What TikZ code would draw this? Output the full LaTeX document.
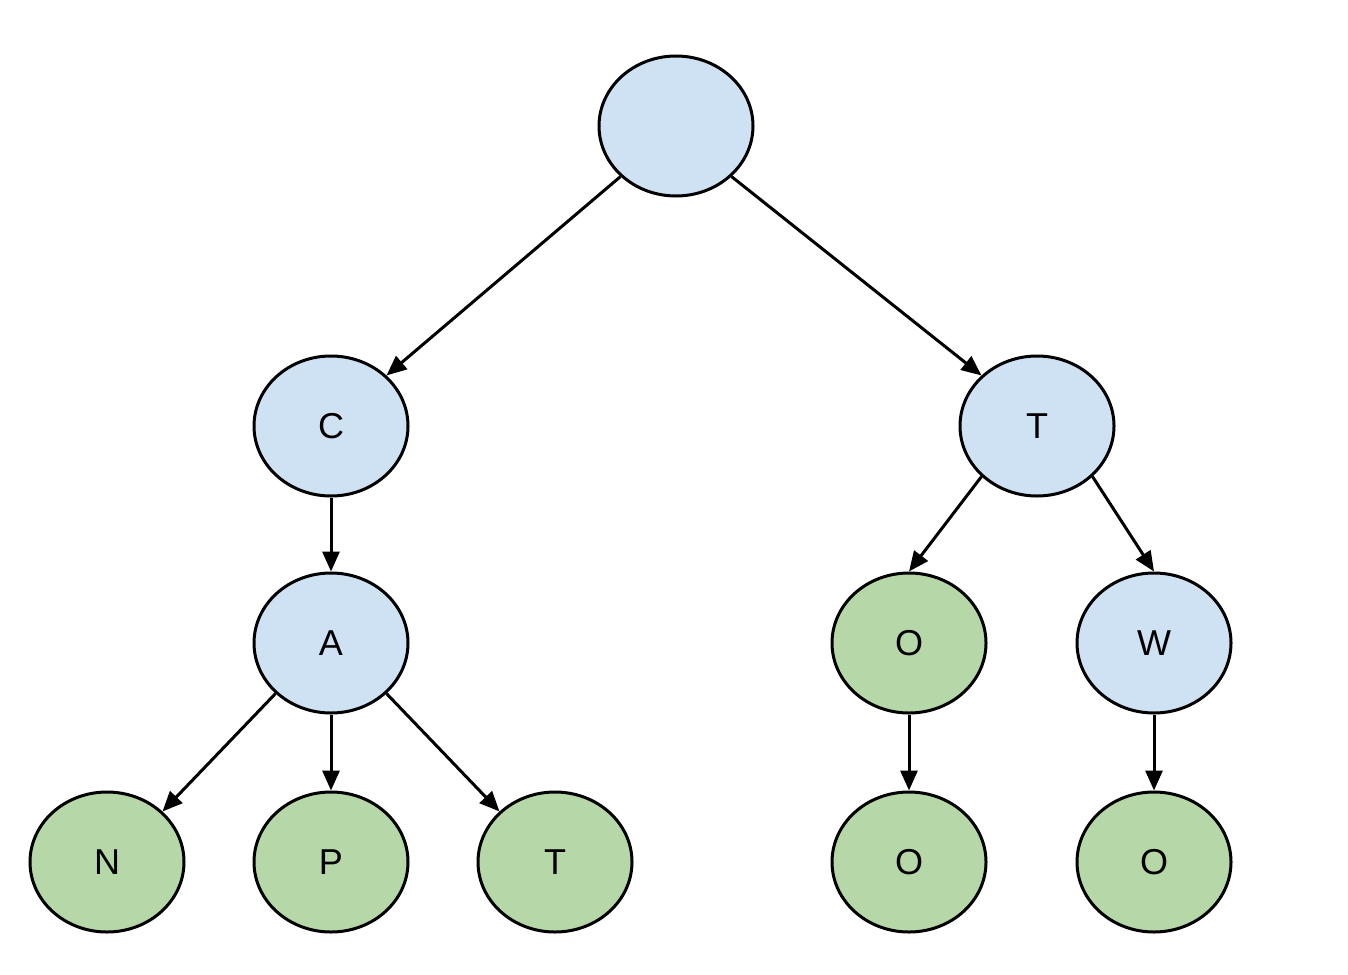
\documentclass[tikz,border=0pt]{standalone}
\usepackage{fontspec}
\setmainfont{Liberation Sans}
\usetikzlibrary{shapes.geometric,arrows.meta}
\definecolor{nblue}{HTML}{CFE2F3}
\definecolor{ngreen}{HTML}{B6D7A8}
\begin{document}
\begin{tikzpicture}[x=1pt,y=-1pt,
  tnode/.style={ellipse,draw=black,line width=3pt,minimum width=154pt,minimum height=140pt,inner sep=0pt,font=\fontsize{36}{40}\selectfont},
  bnode/.style={tnode,fill=nblue},
  gnode/.style={tnode,fill=ngreen},
  edge/.style={line width=3pt,-{Triangle[length=20pt,width=17pt]}}]
\useasboundingbox (0,0) rectangle (1348,974);
\fill[white] (0,0) rectangle (1348,974);
\node[bnode] (r) at (676,126) {};
\node[bnode] (c) at (331,426) {C};
\node[bnode] (t) at (1037,426) {T};
\node[bnode] (a) at (331,643) {A};
\node[gnode] (o1) at (909,643) {O};
\node[bnode] (w) at (1154,643) {W};
\node[gnode] (n) at (107,862) {N};
\node[gnode] (p) at (331,862) {P};
\node[gnode] (t2) at (555,862) {T};
\node[gnode] (o2) at (909,862) {O};
\node[gnode] (o3) at (1154,862) {O};
\draw[edge] (r.south west) -- (c.north east);
\draw[edge] (r.south east) -- (t.north west);
\draw[edge] (c) -- (a);
\draw[edge] (t.south west) -- (o1.north);
\draw[edge] (t.south east) -- (w.north);
\draw[edge] (a.south west) -- (n.north east);
\draw[edge] (a) -- (p);
\draw[edge] (a.south east) -- (t2.north west);
\draw[edge] (o1) -- (o2);
\draw[edge] (w) -- (o3);
\end{tikzpicture}
\end{document}
